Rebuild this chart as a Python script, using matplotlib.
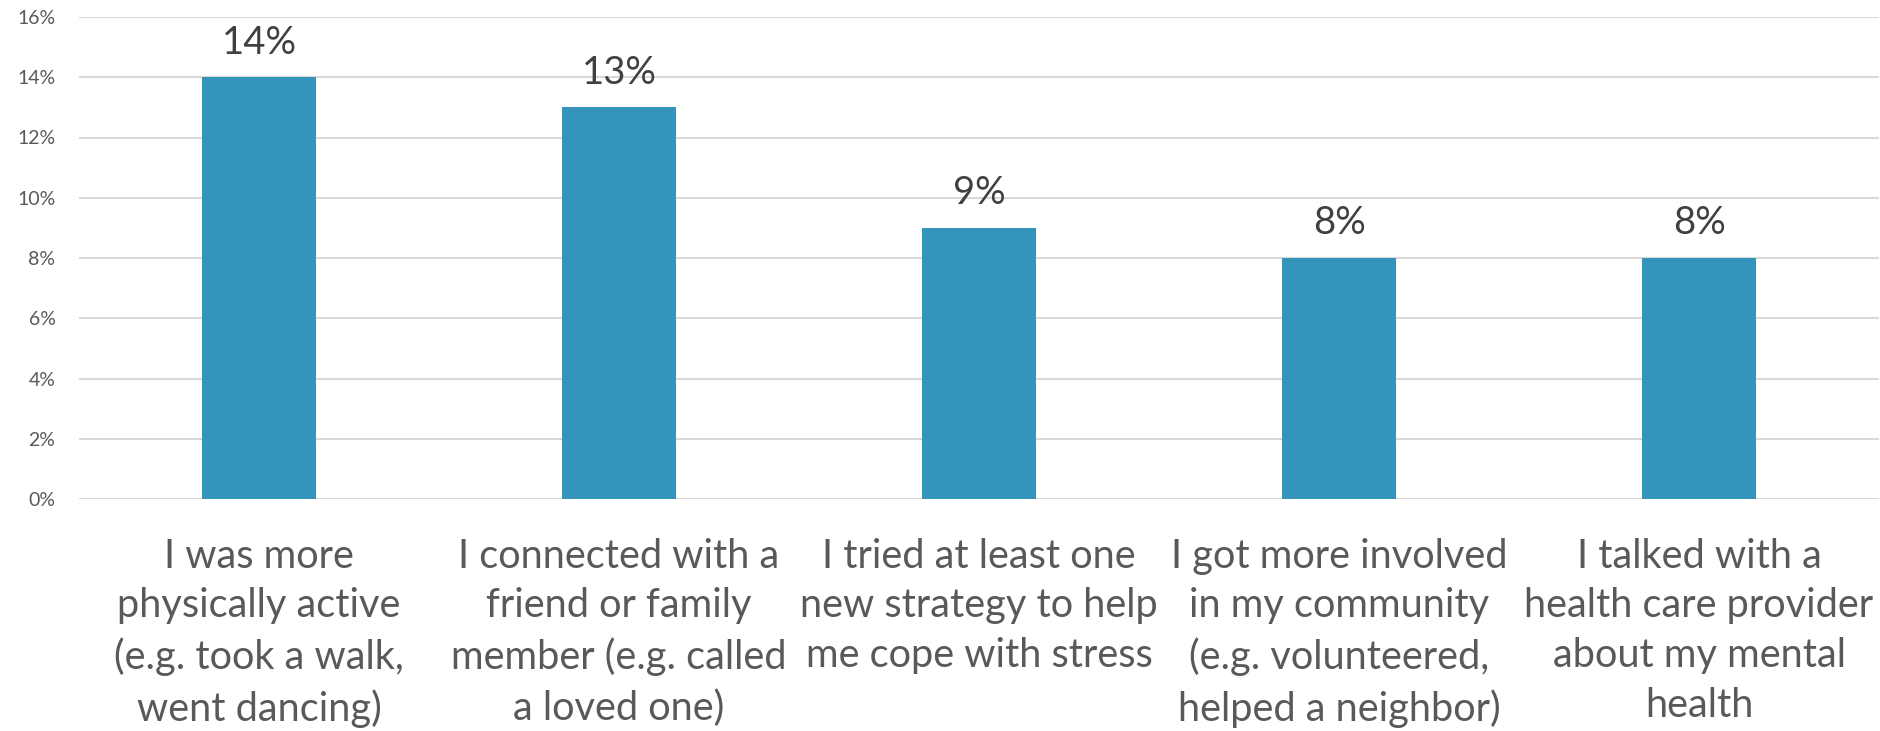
import matplotlib.pyplot as plt
from matplotlib.ticker import FuncFormatter

categories = [
    "I was more\nphysically active\n(e.g. took a walk,\nwent dancing)",
    "I connected with a\nfriend or family\nmember (e.g. called\na loved one)",
    "I tried at least one\nnew strategy to help\nme cope with stress",
    "I got more involved\nin my community\n(e.g. volunteered,\nhelped a neighbor)",
    "I talked with a\nhealth care provider\nabout my mental\nhealth",
]
values = [14, 13, 9, 8, 8]
yticks = [0, 2, 4, 6, 8, 10, 12, 14, 16]

plt.rcParams['font.family'] = ['Lato', 'DejaVu Sans']

fig = plt.figure(figsize=(18.8, 7.31), dpi=100)
ax = fig.add_axes([79 / 1880, 1 - 499 / 731, 1800 / 1880, 482 / 731])

x = list(range(len(values)))
bars = ax.bar(x, values, width=0.317, color='#3494BA', zorder=3)

for xi, v in zip(x, values):
    ax.annotate(f"{v}%", (xi, v), xytext=(0, 12), textcoords='offset points',
                ha='center', va='bottom', fontsize=27.5, color='#404040')

ax.set_xlim(-0.5, len(values) - 0.5)
ax.set_ylim(0, 16)
ax.set_yticks(yticks)
ax.yaxis.set_major_formatter(FuncFormatter(lambda v, p: f"{int(v)}%"))
ax.grid(axis='y', color='#d9d9d9', linewidth=1.5, zorder=0)
ax.set_xticks(x)
ax.set_xticklabels(categories, fontsize=28.6, color='#595959', linespacing=1.42)
ax.tick_params(axis='x', length=0, pad=28)
ax.tick_params(axis='y', length=0, pad=17, labelsize=14, labelcolor='#595959')
for s in ax.spines.values():
    s.set_visible(False)

fig.savefig("out.png", dpi=100)
